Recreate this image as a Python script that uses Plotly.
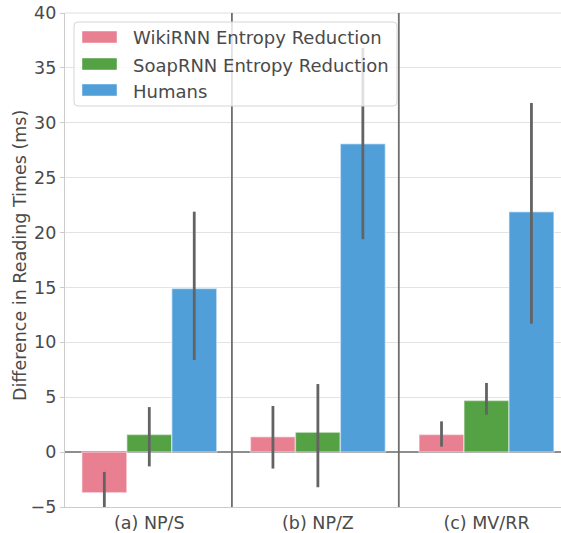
import plotly.graph_objects as go

categories = ["(a) NP/S", "(b) NP/Z", "(c) MV/RR"]
series_names = ["WikiRNN Entropy Reduction", "SoapRNN Entropy Reduction", "Humans"]
wiki_vals = [-3.7, 1.4, 1.6]
wiki_hi = [-1.8, 4.2, 2.8]
wiki_lo = [-5.6, -1.5, 0.5]
soap_vals = [1.6, 1.8, 4.7]
soap_hi = [4.1, 6.2, 6.3]
soap_lo = [-1.3, -3.2, 3.4]
human_vals = [14.9, 28.1, 21.9]
human_hi = [21.9, 36.8, 31.8]
human_lo = [8.4, 19.4, 11.7]
y_ticks = [-5, 0, 5, 10, 15, 20, 25, 30, 35, 40]
separators = [0.49, 1.48]

colors = ["#e88091", "#55a245", "#509fd9"]
xpos = list(range(len(categories)))
font_family = "DejaVu Sans"
text_color = "#4a4a4a"

# body margin is removed by the post script, so the figure fills the window
W, H = 561, 533
ML, MR, MT, MB = 65, 0, 13, 26
PW, PH = W - ML - MR, H - MT - MB


def px_x(p):
    return (p - ML) / PW


def px_y(p):
    return (H - MB - p) / PH


fig = go.Figure()
for name, vals, hi, lo, col in zip(series_names,
                                   [wiki_vals, soap_vals, human_vals],
                                   [wiki_hi, soap_hi, human_hi],
                                   [wiki_lo, soap_lo, human_lo],
                                   colors):
    fig.add_trace(go.Bar(
        x=xpos, y=vals, name=name, showlegend=False,
        marker=dict(color=col, line=dict(color="rgba(255,255,255,0.45)", width=1.5)),
        error_y=dict(type="data", symmetric=False,
                     array=[h - v for h, v in zip(hi, vals)],
                     arrayminus=[v - l for l, v in zip(lo, vals)],
                     color="#636363", thickness=2.8, width=0),
    ))

for s in separators:
    fig.add_shape(type="line", x0=s, x1=s, xref="x", y0=0, y1=1, yref="paper",
                  line=dict(color="#6e6e6e", width=1.8), layer="above")

# top grid line (y = 40) at the plot's upper edge
fig.add_shape(type="line", x0=0, x1=1, xref="paper", y0=1, y1=1, yref="paper",
              line=dict(color="#e0e0e0", width=1.2), layer="below")

# custom legend (box, swatches, labels)
bx0, bx1, by0, by1, r = 74, 397, 22, 106, 4
path = (f"M {px_x(bx0 + r)},{px_y(by0)} L {px_x(bx1 - r)},{px_y(by0)} "
        f"Q {px_x(bx1)},{px_y(by0)} {px_x(bx1)},{px_y(by0 + r)} "
        f"L {px_x(bx1)},{px_y(by1 - r)} Q {px_x(bx1)},{px_y(by1)} {px_x(bx1 - r)},{px_y(by1)} "
        f"L {px_x(bx0 + r)},{px_y(by1)} Q {px_x(bx0)},{px_y(by1)} {px_x(bx0)},{px_y(by1 - r)} "
        f"L {px_x(bx0)},{px_y(by0 + r)} Q {px_x(bx0)},{px_y(by0)} {px_x(bx0 + r)},{px_y(by0)} Z")
fig.add_shape(type="path", path=path, xref="paper", yref="paper",
              fillcolor="rgba(255,255,255,0.8)", line=dict(color="#d6d6d6", width=1),
              layer="above")
row_centers = [37, 64, 90]
for name, col, yc in zip(series_names, colors, row_centers):
    fig.add_shape(type="rect", xref="paper", yref="paper",
                  x0=px_x(82), x1=px_x(117), y0=px_y(yc + 6), y1=px_y(yc - 6),
                  fillcolor=col, line=dict(color="rgba(255,255,255,0.45)", width=1),
                  layer="above")
    fig.add_annotation(x=px_x(131), y=px_y(yc + 1), xref="paper", yref="paper",
                       text=name, showarrow=False, xanchor="left", yanchor="middle",
                       font=dict(family=font_family, size=18, color=text_color))

# y-axis title
fig.add_annotation(x=px_x(20), y=px_y(256), xref="paper", yref="paper",
                   text="Difference in Reading Times (ms)", textangle=-90,
                   showarrow=False, xanchor="center", yanchor="middle",
                   font=dict(family=font_family, size=17.5, color=text_color))

fig.update_layout(
    width=W, height=H,
    margin=dict(l=ML, r=MR, t=MT, b=MB, autoexpand=False),
    plot_bgcolor="white", paper_bgcolor="white",
    barmode="group", bargap=0.2, bargroupgap=0,
    font=dict(family=font_family, size=17.5, color=text_color),
    showlegend=False,
    xaxis=dict(range=[-0.5, 2.442], tickmode="array", tickvals=xpos, ticktext=categories,
               showgrid=False, showline=True, linecolor="#cccccc", linewidth=1.2,
               ticks="", zeroline=False, tickfont=dict(size=17.5), automargin=False),
    yaxis=dict(range=[-5, 40], tickmode="array", tickvals=y_ticks,
               ticktext=["\u22125" if t < 0 else str(t) for t in y_ticks],
               showgrid=True, gridcolor="#e3e3e3", gridwidth=1,
               showline=True, linecolor="#cccccc", linewidth=1.2,
               ticks="outside", ticklen=4, tickcolor="#cccccc",
               zeroline=True, zerolinecolor="#8e8e8e", zerolinewidth=1.8,
               tickfont=dict(size=17.5), automargin=False,
               ticklabeloverflow="allow"),
)

fig.write_html(
    "out.html",
    config={"displayModeBar": False},
    post_script="document.body.style.margin='0';document.body.style.overflow='hidden';",
)
